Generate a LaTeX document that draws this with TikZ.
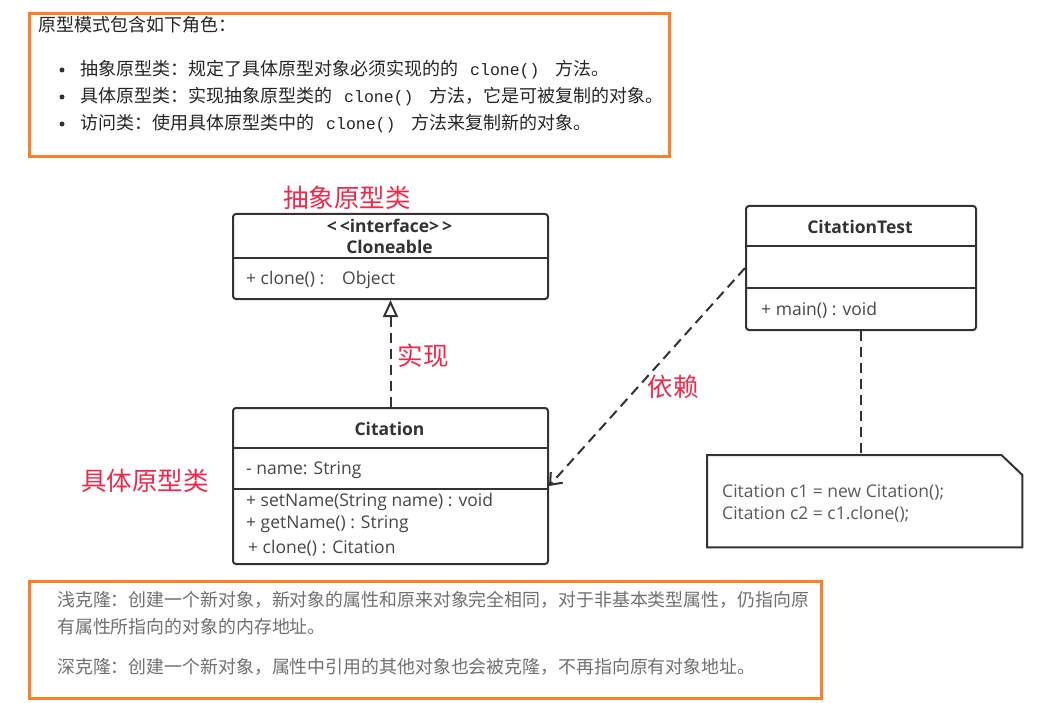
\documentclass[tikz,border=0pt]{standalone}
\usepackage{fontspec}
\setmainfont{Noto Sans CJK SC}
\newfontfamily\umlfont{Open Sans}
\newfontfamily\codefont{Liberation Mono}
\usetikzlibrary{arrows.meta}

\definecolor{frameorange}{HTML}{FF7F27}
\definecolor{umlgray}{HTML}{333333}
\definecolor{rolered}{HTML}{F0284A}
\definecolor{notegray}{HTML}{707070}

\newcommand{\codetext}[1]{{\codefont\fontsize{16.5}{20}\selectfont #1}}

\begin{document}
\begin{tikzpicture}[x=1pt, y=-1pt,
		frame/.style={draw=frameorange, line width=3pt, anchor=north west, inner sep=0pt},
		umlbox/.style={draw=umlgray, line width=2pt, rounded corners=3pt, anchor=north west, inner sep=0pt},
		sep/.style={umlgray, line width=2pt},
		title/.style={font=\umlfont\bfseries\fontsize{17.5}{20}\selectfont, text=umlgray, inner sep=0pt},
		member/.style={anchor=west, font=\umlfont\fontsize{17.5}{20}\selectfont, text=umlgray!90, inner sep=0pt},
		rolename/.style={font=\fontsize{25.5}{28}\selectfont, text=rolered, inner sep=0pt},
		maintext/.style={anchor=west, font=\fontsize{18}{20}\selectfont, text=black!85, inner sep=0pt},
		greytext/.style={anchor=west, font=\fontsize{17.9}{20}\selectfont, text=notegray, inner sep=0pt},
		dot/.style={circle, fill=umlgray, minimum size=5pt, inner sep=0pt},
		realize/.style={umlgray, line width=2pt, dash pattern=on 10pt off 6pt, -{Triangle[open, length=17pt, width=15pt]}},
		depend/.style={umlgray, line width=2pt, dash pattern=on 10pt off 6pt, -{Straight Barb[length=10pt, width=16pt]}},
		link/.style={umlgray, line width=2pt, dash pattern=on 10pt off 6pt}
		]
		
		\useasboundingbox (0,0) rectangle (1038,703);
		\fill[white] (0,0) rectangle (1038,703);
		
		% 上方说明框
		\node[frame, minimum width=640pt, minimum height=143pt] (roles) at (28,12) {};
		\node[maintext] (rolestitle) at (38,25) {原型模式包含如下角色：};
		\node[dot] (dot1) at (62,70) {};
		\node[dot] (dot2) at (62,97) {};
		\node[dot] (dot3) at (62,124) {};
		\node[maintext] (role1) at (80,70) {抽象原型类：规定了具体原型对象必须实现的的\hspace{12pt}\codetext{clone()}\hspace{16pt}方法。};
		\node[maintext] (role2) at (80,97) {具体原型类：实现抽象原型类的\hspace{12pt}\codetext{clone()}\hspace{16pt}方法，它是可被复制的对象。};
		\node[maintext] (role3) at (80,124) {访问类：使用具体原型类中的\hspace{12pt}\codetext{clone()}\hspace{16pt}方法来复制新的对象。};
		
		% 接口 Cloneable
		\node[umlbox, minimum width=315pt, minimum height=85pt] (cloneable) at (232,213) {};
		\draw[sep] (232,258) -- (547,258);
		\node[title] (stereo) at (389.5,226) {<\,<interface>\,>};
		\node[title] (clonename) at (389.5,247) {Cloneable};
		\node[member] (cloneop) at (246,280) {+ clone() :\hspace{18pt}Object};
		\node[rolename] (abstractlabel) at (347,198) {抽象原型类};
		
		% 类 Citation
		\node[umlbox, minimum width=315pt, minimum height=156pt] (citation) at (232,407) {};
		\draw[sep] (232,448) -- (547,448);
		\draw[sep] (232,489) -- (547,489);
		\node[title] (citationname) at (389.5,429) {Citation};
		\node[member] (nameattr) at (246,470) {- name: String};
		\node[member] (setop) at (246,502) {+ setName(String name) : void};
		\node[member] (getop) at (246,524) {+ getName() : String};
		\node[member] (citeclone) at (248,548) {+ clone() : Citation};
		\node[rolename] (concretelabel) at (145,481) {具体原型类};
		
		% 类 CitationTest
		\node[umlbox, minimum width=230pt, minimum height=124pt] (test) at (745,205) {};
		\draw[sep] (745,246) -- (975,246);
		\draw[sep] (745,288) -- (975,288);
		\node[title] (testname) at (860,227) {CitationTest};
		\node[member] (mainop) at (761,310) {+ main() : void};
		
		% 注释
		\node[anchor=north west, minimum width=315pt, minimum height=92pt, inner sep=0pt] (note) at (707,455) {};
		\draw[sep] (note.north west) -- ([xshift=-21pt]note.north east) -- ([yshift=-20pt]note.north east)
			-- (note.south east) -- (note.south west) -- cycle;
		\node[member, text=notegray!80!black] (noteline1) at (722,492) {Citation c1 = new Citation();};
		\node[member, text=notegray!80!black] (noteline2) at (722,514) {Citation c2 = c1.clone();};
		
		% 连线
		\draw[realize] (citation.north) -- (cloneable.south);
		\node[rolename] (realizelabel) at (423,356) {实现};
		\draw[depend] (test.west) -- (citation.east);
		\node[rolename] (dependlabel) at (673,387) {依赖};
		\draw[link] (test.south) -- (test.south |- note.north);
		
		% 下方说明框
		\node[frame, minimum width=792pt, minimum height=117pt] (clones) at (28,580) {};
		\node[greytext] (shallow1) at (57,600) {浅克隆：创建一个新对象，新对象的属性和原来对象完全相同，对于非基本类型属性，仍指向原};
		\node[greytext] (shallow2) at (57,627) {有属性所指向的对象的内存地址。};
		\node[greytext] (deep) at (57,667) {深克隆：创建一个新对象，属性中引用的其他对象也会被克隆，不再指向原有对象地址。};
		
	\end{tikzpicture}
\end{document}
